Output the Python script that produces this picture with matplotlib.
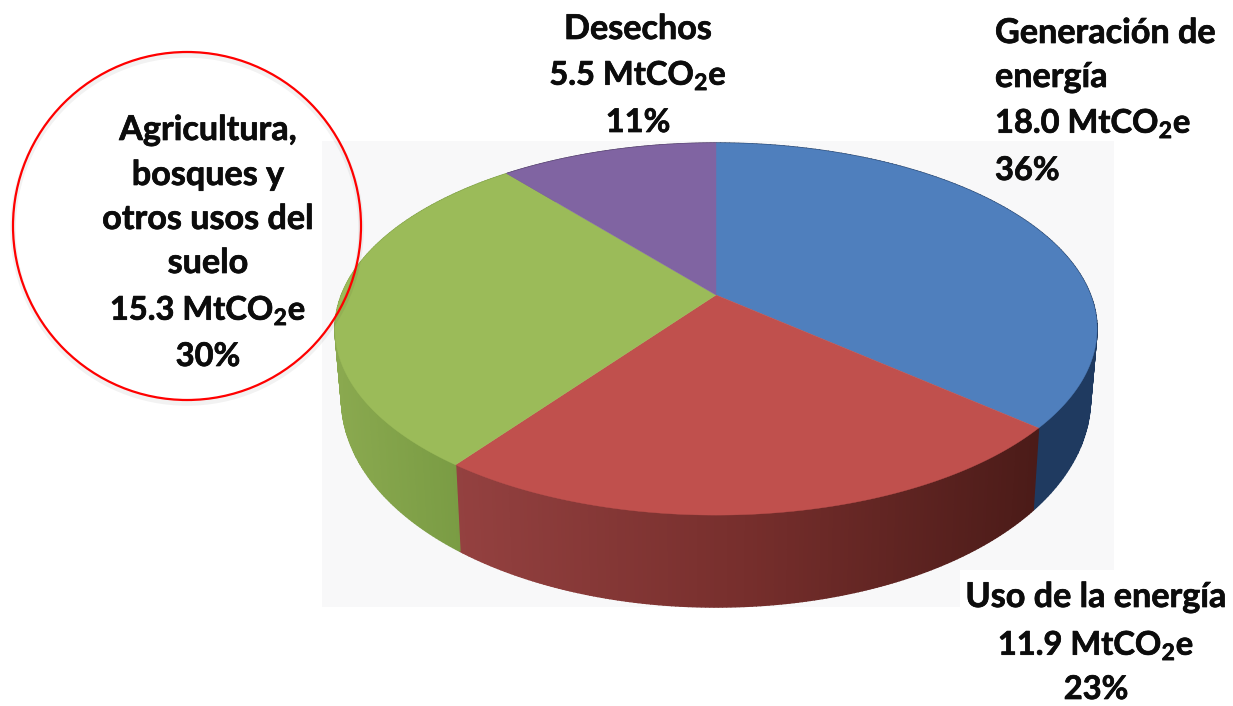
import numpy as np
import matplotlib
matplotlib.use("Agg")
import matplotlib.pyplot as plt
import matplotlib.patheffects as pe
from matplotlib.patches import Polygon, Circle, Rectangle
from matplotlib.colors import to_rgb

plt.rcParams['font.family'] = ['Lato', 'DejaVu Sans']
plt.rcParams['mathtext.fontset'] = 'custom'
plt.rcParams['mathtext.bf'] = 'Lato:bold'
plt.rcParams['mathtext.rm'] = 'Lato:bold'

# ---- data ----
sectors = ["Generación de energía", "Uso de la energía",
           "Agricultura, bosques y otros usos del suelo", "Desechos"]
emissions = [18.0, 11.9, 15.3, 5.5]
shares = [36, 23, 30, 11]              # printed labels
drawn_shares = [36.3, 23.8, 28.9, 11.0]  # slice sizes
top_colors = ["#4f7fbd", "#c0504d", "#9bbb59", "#8064a2"]
side_stops = [
    [(700, "#1f3a60"), (1100, "#1f3a60")],
    [(455, "#944140"), (750, "#762e2c"), (1038, "#4b1b18")],
    [(335, "#8aa94f"), (455, "#7a9c44")],
    [(500, "#4f3d66"), (720, "#4f3d66")],
]

# ---- pie geometry (pixels) ----
APEX = (716, 295)
DX, DY, PERSP = 374.6, 179.8, -0.183
FS = 24.6
FS_NUM = 23.5


def rim(theta):
    """Project a clockwise angle from the top onto the tilted disc."""
    X, Y = np.sin(theta), -np.cos(theta)
    w = 1 + PERSP * Y
    return APEX[0] + DX * X / w, APEX[1] + DY * Y / w


def floor(theta):
    """Matching point on the lower rim, slightly smaller through perspective."""
    x, y = rim(theta)
    Y = -np.cos(theta)
    return APEX[0] + (x - APEX[0]) * 0.983, y + 64 + 28 * Y


fig = plt.figure(figsize=(12.33, 7.06), dpi=100)
ax = fig.add_axes([0, 0, 1, 1])
ax.set_xlim(0, 1233)
ax.set_ylim(706, 0)
ax.axis("off")

ax.add_patch(Rectangle((322, 141), 792, 466, fc="#f8f8f9", ec="none", zorder=0))
ax.add_patch(Rectangle((960, 570), 273, 136, fc="white", ec="none", zorder=0.5))

edges = 2 * np.pi * np.concatenate([[0], np.cumsum(drawn_shares)]) / sum(drawn_shares)

# side walls, drawn as thin strips
for i in range(len(shares)):
    th = np.linspace(edges[i], edges[i + 1], 160)
    xs, ys = rim(th)
    bx, by = floor(th)
    sx = [s[0] for s in side_stops[i]]
    rgb = np.array([to_rgb(s[1]) for s in side_stops[i]])
    for k in range(len(th) - 1):
        xm = (xs[k] + xs[k + 1]) / 2
        c = [np.interp(xm, sx, rgb[:, j]) for j in range(3)]
        quad = [(xs[k], ys[k]), (xs[k + 1], ys[k + 1]),
                (bx[k + 1], by[k + 1]), (bx[k], by[k])]
        ax.add_patch(Polygon(quad, closed=True, fc=c, ec=c, lw=1.0, zorder=2))

# top face
for i in range(len(shares)):
    th = np.linspace(edges[i], edges[i + 1], 200)
    xs, ys = rim(th)
    pts = [APEX] + list(zip(xs, ys))
    ax.add_patch(Polygon(pts, closed=True, fc=top_colors[i], ec=top_colors[i],
                         lw=0.3, zorder=3))

# highlight circle
ax.add_patch(Circle((187, 229), 174, fc="none", ec="black", alpha=0.05, lw=4, zorder=4))
ax.add_patch(Circle((187, 226), 174, fc="none", ec="#ff0000", lw=1.6, zorder=5))


def amount(i):
    return f"{emissions[i]:.1f} MtCO$_{{\\mathbf{{2}}}}$e"


def pct(i):
    return f"{shares[i]}%"


labels = [
    (995, "left", [("Generación de", 30, FS), ("energía", 74, FS),
                   (amount(0), 120, FS_NUM), (pct(0), 168, FS_NUM)]),
    (1096, "center", [("Uso de la energía", 594, FS), (amount(1), 642, FS_NUM),
                      (pct(1), 687, FS_NUM)]),
    (208, "center", [("Agricultura,", 127, FS), ("bosques y", 172, FS),
                     ("otros usos del", 216, FS), ("suelo", 260, FS),
                     (amount(2), 307, FS_NUM), (pct(2), 354, FS_NUM)]),
    (638, "center", [("Desechos", 26, FS), (amount(3), 72, FS_NUM), (pct(3), 120, FS_NUM)]),
]
for x, ha, lines in labels:
    for txt, y, size in lines:
        t = ax.text(x, y, txt, ha=ha, va="center_baseline", fontsize=size, fontweight="bold",
                    color="#0c0c0c", zorder=6)
        t.set_path_effects([pe.withStroke(linewidth=0.5, foreground="#0c0c0c")])

fig.savefig("out.png", dpi=100)
